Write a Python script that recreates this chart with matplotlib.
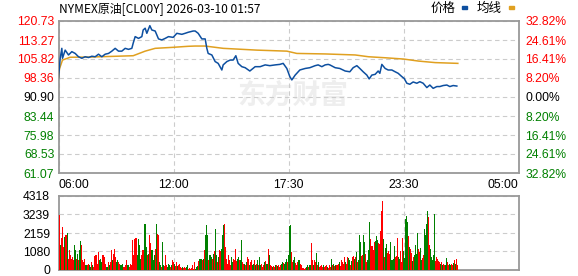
import matplotlib
matplotlib.use("Agg")
import matplotlib.pyplot as plt
from matplotlib.patches import Rectangle

plt.rcParams['font.family'] = ['Liberation Sans', 'DejaVu Sans']

TITLE = "NYMEX原油[CL00Y] 2026-03-10 01:57"

# price axis (left) and change in percent (right)
PRICE_TICKS = [120.73, 113.27, 105.82, 98.36, 90.90, 83.44, 75.98, 68.53, 61.07]
PCT_LABELS = ["32.82%", "24.61%", "16.41%", "8.20%", "0.00%",
              "8.20%", "16.41%", "24.61%", "32.82%"]
PREV_CLOSE = 90.90

# minutes since 06:00
TIME_TICKS = [0, 345, 690, 1035, 1380]
TIME_LABELS = ["06:00", "12:00", "17:30", "23:30", "05:00"]
VOL_TICKS = [0, 1080, 2159, 3239, 4318]

price_t = [0, 5, 10, 12, 20, 30, 40, 50, 60, 70, 80, 90, 100, 110, 120, 130, 140, 150,
           160, 170, 180, 190, 200, 210, 220, 224, 230, 240, 250, 254, 260, 265, 274,
           280, 290, 300, 310, 320, 330, 344, 355, 370, 380, 389, 404, 410, 419, 430,
           440, 445, 449, 460, 470, 479, 490, 494, 505, 515, 524, 532, 539, 550, 560,
           574, 590, 605, 620, 634, 650, 664, 674, 685, 694, 700, 710, 724, 740, 754,
           770, 779, 790, 800, 809, 814, 830, 844, 860, 874, 884, 895, 904, 914, 925,
           932, 940, 950, 959, 964, 970, 980, 989, 1000, 1010, 1019, 1030, 1037, 1045,
           1054, 1064, 1075, 1084, 1094, 1105, 1114, 1124, 1135, 1144, 1154, 1165,
           1174, 1184, 1195]
price_v = [98.4, 106.0, 110.0, 106.1, 109.3, 107.4, 108.7, 108.0, 106.7, 106.1, 106.7,
           106.4, 106.9, 106.7, 107.7, 106.7, 107.7, 108.0, 108.9, 110.0, 108.9, 108.9,
           110.0, 109.6, 110.0, 112.0, 114.6, 113.9, 114.6, 117.2, 117.9, 115.9, 118.9,
           117.2, 116.8, 113.7, 113.3, 113.9, 114.6, 114.3, 115.9, 115.5, 115.9, 116.3,
           116.8, 116.8, 115.9, 113.7, 113.7, 110.0, 108.0, 107.4, 104.8, 104.1, 101.5,
           103.5, 104.8, 105.4, 105.4, 107.1, 104.1, 102.8, 102.4, 101.1, 102.8, 102.8,
           103.5, 103.2, 103.5, 103.7, 104.1, 102.1, 98.9, 97.6, 99.5, 101.5, 102.1,
           102.4, 103.2, 103.5, 102.8, 103.5, 103.7, 103.5, 102.4, 102.1, 101.1, 100.8,
           102.4, 103.2, 102.1, 100.8, 99.5, 98.0, 99.5, 99.8, 101.1, 100.2, 103.7,
           102.1, 101.5, 101.5, 100.8, 100.2, 98.9, 98.2, 96.3, 95.9, 96.8, 96.3, 96.9,
           96.3, 94.6, 95.6, 94.3, 95.0, 95.0, 95.4, 95.6, 95.0, 95.4, 95.2]

avg_t = [0, 3, 12, 35, 100, 224, 260, 290, 344, 389, 410, 440, 494, 595, 685, 715,
         800, 890, 930, 980, 1035, 1080, 1130, 1198]
avg_v = [98.4, 102.0, 105.4, 106.5, 106.6, 107.1, 108.9, 110.0, 110.4, 110.8, 110.9,
         110.9, 110.0, 109.3, 108.9, 108.0, 107.8, 107.4, 106.7, 106.3, 105.8, 105.0,
         104.4, 104.1]

# volume per 3-minute bar, r = up, g = down
volume = [
    3210, 1450, 1840, 2530, 1350, 1940, 2040, 2040, 2140, 670,
    1160, 860, 670, 760, 570, 1450, 1160, 670, 960, 570,
    1160, 1690, 1450, 570, 470, 670, 270, 270, 270, 370,
    270, 180, 470, 270, 180, 800, 900, 900, 370, 1060,
    570, 670, 470, 860, 860, 760, 370, 180, 180, 470,
    270, 470, 1160, 570, 960, 1220, 760, 470, 570, 470,
    370, 270, 270, 370, 180, 180, 270, 570, 270, 270,
    180, 330, 270, 1740, 900, 1780, 1840, 1840, 860, 1780,
    1450, 670, 860, 1160, 1160, 2690, 2690, 1350, 860, 960,
    2040, 1550, 1160, 1160, 570, 860, 1250, 2670, 2080, 2040,
    470, 270, 180, 1650, 270, 220, 860, 270, 180, 370,
    270, 180, 270, 570, 470, 370, 220, 470, 240, 270,
    370, 180, 120, 180, 120, 180, 120, 180, 270, 80,
    120, 80, 120, 310, 80, 470, 80, 180, 240, 510,
    630, 670, 630, 570, 670, 1160, 2040, 2630, 2040, 570,
    900, 860, 760, 670, 960, 1100, 2390, 860, 470, 760,
    1160, 1100, 1250, 2040, 2630, 2670, 1350, 670, 370, 900,
    570, 270, 760, 470, 630, 570, 1250, 510, 670, 760,
    610, 570, 1740, 470, 370, 370, 270, 470, 760, 670,
    270, 470, 570, 270, 370, 570, 270, 370, 570, 270,
    760, 270, 370, 180, 270, 470, 510, 370, 370, 1250,
    860, 270, 240, 180, 220, 180, 310, 270, 220, 270,
    180, 270, 370, 470, 430, 370, 470, 670, 470, 860,
    2570, 2630, 1060, 470, 570, 730, 430, 270, 470, 570,
    610, 370, 310, 120, 120, 80, 120, 180, 310, 180,
    270, 270, 1550, 570, 270, 570, 470, 1020, 270, 470,
    180, 240, 310, 180, 270, 180, 240, 270, 180, 120,
    270, 180, 630, 270, 370, 220, 270, 310, 270, 370,
    470, 220, 570, 470, 370, 760, 470, 370, 730, 710,
    570, 270, 510, 760, 800, 670, 760, 1060, 470, 570,
    2040, 1650, 800, 860, 2040, 1650, 960, 470, 570, 1160,
    2820, 1800, 1410, 1410, 1160, 1650, 1690, 2000, 1740, 1550,
    1490, 2270, 3450, 4000, 1800, 760, 1290, 1490, 1000, 1100,
    960, 1650, 570, 570, 670, 1410, 760, 800, 1840, 760,
    630, 1100, 470, 1840, 1100, 710, 2980, 3180, 2820, 2000,
    1350, 1250, 1020, 510, 760, 900, 1450, 960, 2140, 1220,
    1060, 1290, 570, 710, 860, 2390, 2040, 2690, 3470, 3120,
    1450, 1250, 760, 570, 900, 3250, 510, 760, 670, 510,
    470, 370, 470, 270, 370, 270, 270, 710, 470, 270,
    370, 270, 370, 270, 410, 570, 370, 670, 310,
]
vol_dir = (
    "rgrrrgrrgr" "rrrrrggrgr" "ggrrrrggrr" "ggrgrrrrrr" "gggrrrrggr"
    "grrgrrrggr" "rgggrrrrgg" "rrrrrrrrgg" "ggrrrgggrg" "rrggggrgrr"
    "ggrggrrrgg" "grgrrgrrgr" "rrrgrrrggr" "rrrrrrgggr" "gggrgrgggr"
    "gggrgrggrg" "rrgggrrrrr" "rrggrrrrgg" "rggrrgrgrr" "grrggrgrgr"
    "ggrrrgrggr" "grrgrrgrgr" "rrggrgggrg" "ggrrggrrrg" "grrrrrrggr"
    "ggrrgrrgrg" "rrrrgrrrgr" "rrgrgrgrrr" "grrrrrgrrg" "grgrrgrgrg"
    "ggrrggrrgg" "grrrrrgggr" "rrrrgrggrr" "rgggggrrrg" "grrrgggggr"
    "grrgrggggr" "rggrrggggr" "rgggggrrrr" "rgrgrrggrr" "ggrrgrgrr"
)
BAR_MIN = 3

RED = '#ff0000'
GREEN = '#008000'
BORDER = '#999999'
GRID = '#cccccc'

W, H = 578, 276
fig = plt.figure(figsize=(W / 100, H / 100), dpi=100)
ax = fig.add_axes([58.5 / W, 1 - 173 / H, 460 / W, 152 / H])
axv = fig.add_axes([58.5 / W, 1 - 270 / H, 460 / W, 74 / H])

for a in (ax, axv):
    for s in a.spines.values():
        s.set_color(BORDER)
        s.set_linewidth(1.3)
    a.set_xlim(TIME_TICKS[0], TIME_TICKS[-1])
    a.tick_params(length=0, labelsize=8.7)
    a.grid(True, color=GRID, linestyle=(0, (4, 3)), linewidth=0.8)
    a.set_axisbelow(True)

# price panel
ax.text(0.51, 0.51, "东方财富", transform=ax.transAxes, ha='center', va='center',
        fontsize=20, fontweight='bold', color='#eeeeee', family=['Noto Sans CJK SC'],
        zorder=0)
ax.plot(avg_t, avg_v, color='#e0a020', lw=1.1, zorder=3)
ax.plot(price_t, price_v, color='#0d4fa0', lw=1.1, zorder=4)
ax.set_ylim(PRICE_TICKS[-1], PRICE_TICKS[0])
ax.set_yticks(PRICE_TICKS)
ax.set_yticklabels([f"{p:.2f}" for p in PRICE_TICKS])
ax.set_xticks(TIME_TICKS)
ax.set_xticklabels(TIME_LABELS)
ax.tick_params(axis='y', pad=3)
ax.tick_params(axis='x', pad=4)

def level_color(p):
    if p > PREV_CLOSE:
        return RED
    if p < PREV_CLOSE:
        return GREEN
    return 'black'

for lab, p in zip(ax.get_yticklabels(), PRICE_TICKS):
    lab.set_color(level_color(p))

xl = ax.get_xticklabels()
xl[0].set_horizontalalignment('left')
xl[-1].set_horizontalalignment('right')

axr = ax.twinx()
axr.set_ylim(ax.get_ylim())
axr.set_yticks(PRICE_TICKS)
axr.set_yticklabels(PCT_LABELS)
axr.tick_params(length=0, labelsize=8.7, pad=5)
for s in axr.spines.values():
    s.set_visible(False)
for lab, p in zip(axr.get_yticklabels(), PRICE_TICKS):
    lab.set_color(level_color(p))

# volume panel
bar_x = [BAR_MIN * i + BAR_MIN / 2 for i in range(len(volume))]
bar_c = [RED if d == 'r' else GREEN for d in vol_dir]
axv.bar(bar_x, volume, width=BAR_MIN, color=bar_c, linewidth=0, zorder=3)
axv.set_ylim(VOL_TICKS[0], VOL_TICKS[-1])
axv.set_yticks(VOL_TICKS)
axv.set_yticklabels([str(v) for v in VOL_TICKS])
axv.set_xticks(TIME_TICKS[1:-1])
axv.set_xticklabels([])
axv.tick_params(axis='y', pad=6)

# title and legend
fig.text(59 / W, 1 - 9 / H, TITLE, ha='left', va='center', fontsize=8.6,
         family=['Noto Sans CJK SC', 'DejaVu Sans'])
fig.text(431 / W, 1 - 8 / H, "价格", ha='left', va='center', fontsize=9,
         family=['Noto Sans CJK SC'])
fig.add_artist(Rectangle((462 / W, 1 - 9 / H), 5 / W, 3 / H,
                         transform=fig.transFigure, color='#0d4fa0'))
fig.text(477 / W, 1 - 8 / H, "均线", ha='left', va='center', fontsize=9,
         family=['Noto Sans CJK SC'])
fig.add_artist(Rectangle((509 / W, 1 - 9 / H), 5 / W, 3 / H,
                         transform=fig.transFigure, color='#e0a020'))

fig.savefig("out.png", dpi=100)
